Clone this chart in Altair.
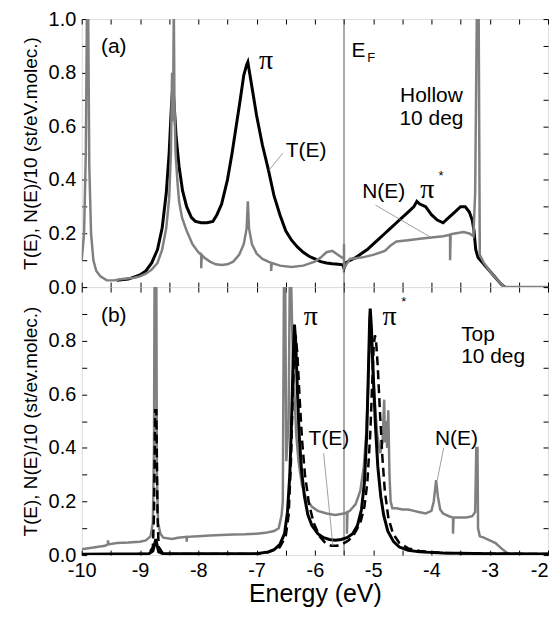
import altair as alt
import pandas as pd

# ---------------- data ----------------
# panel (a) Hollow 10 deg : T(E) black
a_T_E = [-9.4, -9.2, -9.0, -8.9, -8.8, -8.7, -8.62, -8.55, -8.5, -8.46, -8.44, -8.42, -8.38, -8.33,
         -8.27, -8.2, -8.12, -8.05, -7.95, -7.85, -7.75, -7.68, -7.6, -7.5, -7.42, -7.35, -7.28,
         -7.22, -7.17, -7.15, -7.12, -7.06, -7.0, -6.9, -6.8, -6.7, -6.6, -6.5, -6.4, -6.3, -6.2,
         -6.1, -6.0, -5.9, -5.8, -5.7, -5.6, -5.52, -5.5, -5.47, -5.4, -5.3, -5.2, -5.1, -5.0, -4.9,
         -4.8, -4.7, -4.6, -4.5, -4.4, -4.3, -4.25, -4.2, -4.1, -4.0, -3.9, -3.8, -3.7, -3.6, -3.5,
         -3.42, -3.35, -3.3, -3.27, -3.24, -3.2, -3.1, -3.0, -2.9, -2.8, -2.74]
a_T_v = [0.025, 0.03, 0.045, 0.06, 0.09, 0.14, 0.22, 0.35, 0.5, 0.68, 0.74, 0.7, 0.56, 0.45,
         0.36, 0.3, 0.26, 0.245, 0.24, 0.24, 0.245, 0.27, 0.31, 0.40, 0.5, 0.6, 0.7,
         0.79, 0.83, 0.84, 0.8, 0.72, 0.64, 0.53, 0.44, 0.34, 0.27, 0.21, 0.175, 0.15, 0.13,
         0.115, 0.105, 0.095, 0.09, 0.087, 0.085, 0.083, 0.07, 0.09, 0.1, 0.11, 0.125, 0.14, 0.16, 0.18,
         0.2, 0.22, 0.24, 0.26, 0.28, 0.3, 0.32, 0.31, 0.3, 0.27, 0.25, 0.24, 0.26, 0.28, 0.3,
         0.3, 0.28, 0.25, 0.21, 0.14, 0.11, 0.085, 0.06, 0.035, 0.01, 0.0]

# panel (a): N(E)/10 grey
a_N_E = [-10.0, -9.96, -9.93, -9.91, -9.89, -9.87, -9.84, -9.8, -9.75, -9.68, -9.57, -9.45, -9.3,
         -9.1, -9.0, -8.9, -8.8, -8.7, -8.62, -8.55, -8.5, -8.47, -8.45, -8.44, -8.43, -8.42, -8.41,
         -8.39, -8.36, -8.33, -8.28, -8.2, -8.1, -8.0, -7.95, -7.95, -7.94, -7.9, -7.8, -7.7, -7.6,
         -7.5, -7.4, -7.3, -7.22, -7.17, -7.15, -7.13, -7.08, -7.0, -6.9, -6.8, -6.75, -6.75, -6.74,
         -6.6, -6.4, -6.2, -6.0, -5.9, -5.8, -5.7, -5.6, -5.5, -5.5, -5.5, -5.4, -5.2, -5.0, -4.8,
         -4.7, -4.6, -4.4, -4.2, -4.0, -3.8, -3.68, -3.68, -3.67, -3.6, -3.45, -3.35, -3.28, -3.25,
         -3.22, -3.19, -3.17, -3.1, -3.0, -2.9, -2.8, -2.75, -2.0]
a_N_v = [0.10, 0.2, 0.5, 1.05, 1.05, 0.45, 0.2, 0.1, 0.06, 0.04, 0.025, 0.025, 0.03,
         0.035, 0.04, 0.05, 0.065, 0.09, 0.14, 0.22, 0.33, 0.5, 0.8, 0.62, 0.75, 1.05, 0.7,
         0.5, 0.4, 0.32, 0.26, 0.21, 0.16, 0.13, 0.12, 0.07, 0.12, 0.11, 0.095, 0.085, 0.082,
         0.085, 0.095, 0.12, 0.16, 0.22, 0.32, 0.22, 0.16, 0.125, 0.105, 0.095, 0.09, 0.06, 0.09,
         0.08, 0.075, 0.08, 0.095, 0.11, 0.13, 0.135, 0.12, 0.105, 0.16, 0.07, 0.105, 0.11, 0.12, 0.135,
         0.155, 0.17, 0.175, 0.18, 0.185, 0.19, 0.195, 0.1, 0.197, 0.2, 0.205, 0.2, 0.19, 0.35,
         1.05, 1.05, 0.12, 0.09, 0.06, 0.035, 0.01, 0.0, 0.0]

# panel (b) Top 10 deg : N(E)/10 grey
b_N_E = [-10.0, -9.8, -9.6, -9.55, -9.55, -9.54, -9.4, -9.2, -9.0, -8.9, -8.82, -8.78, -8.76, -8.75,
         -8.72, -8.71, -8.69, -8.65, -8.6, -8.45, -8.35, -8.2, -8.2, -8.19, -8.0, -7.8, -7.6, -7.4,
         -7.2, -7.0, -6.85, -6.7, -6.62, -6.57, -6.55, -6.53, -6.51, -6.49, -6.45, -6.43, -6.41,
         -6.39, -6.37, -6.35, -6.32, -6.28, -6.22, -6.15, -6.05, -5.95, -5.8, -5.65, -5.5, -5.45,
         -5.45, -5.44, -5.4, -5.3, -5.22, -5.16, -5.12, -5.09, -5.07, -5.05, -5.02, -4.98, -4.93,
         -4.88, -4.84, -4.81, -4.8, -4.78, -4.76, -4.74, -4.72, -4.7, -4.67, -4.6, -4.5, -4.4,
         -4.3, -4.2, -4.1, -4.0, -3.96, -3.92, -3.89, -3.85, -3.8, -3.7, -3.63, -3.63, -3.62,
         -3.5, -3.4, -3.3, -3.25, -3.23, -3.21, -3.2, -3.17, -3.1, -3.0, -2.9, -2.8, -2.7, -2.65,
         -2.0]
b_N_v = [0.022, 0.028, 0.035, 0.04, 0.055, 0.04, 0.045, 0.047, 0.05, 0.055, 0.07, 0.12, 0.4, 1.05,
         1.05, 0.3, 0.12, 0.08, 0.065, 0.06, 0.065, 0.068, 0.05, 0.068, 0.07, 0.073, 0.075, 0.077,
         0.078, 0.08, 0.083, 0.09, 0.1, 0.15, 0.2, 1.05, 1.05, 0.35, 0.5, 1.05, 1.05,
         0.85, 0.7, 0.6, 0.45, 0.35, 0.26, 0.21, 0.18, 0.165, 0.155, 0.15, 0.155, 0.16,
         0.08, 0.16, 0.165, 0.19, 0.24, 0.33, 0.45, 0.6, 0.75, 0.85, 0.75, 0.6, 0.45,
         0.38, 0.42, 0.58, 0.42, 0.5, 0.4, 0.54, 0.3, 0.2, 0.175, 0.175, 0.17, 0.17,
         0.165, 0.16, 0.155, 0.165, 0.2, 0.28, 0.22, 0.17, 0.155, 0.145, 0.14, 0.08, 0.14,
         0.14, 0.14, 0.145, 0.16, 0.4, 0.4, 0.1, 0.07, 0.065, 0.055, 0.045, 0.025, 0.008, 0.0,
         0.0]

# panel (b): T(E) black solid
b_T_E = [-10.0, -8.85, -8.78, -8.75, -8.73, -8.71, -8.68, -8.6, -7.0, -6.8, -6.7, -6.6, -6.52,
         -6.47, -6.43, -6.4, -6.37, -6.35, -6.33, -6.3, -6.27, -6.23, -6.18, -6.12, -6.05, -5.95,
         -5.85, -5.75, -5.65, -5.55, -5.45, -5.35, -5.27, -5.2, -5.15, -5.11, -5.08, -5.06, -5.05,
         -5.03, -5.0, -4.96, -4.92, -4.87, -4.82, -4.75, -4.65, -4.55, -4.4, -4.2, -3.8, -3.0, -2.0]
b_T_v = [0.003, 0.005, 0.015, 0.04, 0.06, 0.04, 0.012, 0.005, 0.005, 0.012, 0.02, 0.04, 0.08,
         0.16, 0.3, 0.5, 0.75, 0.86, 0.8, 0.62, 0.45, 0.32, 0.22, 0.15, 0.11, 0.08,
         0.065, 0.058, 0.055, 0.058, 0.065, 0.08, 0.11, 0.17, 0.27, 0.45, 0.7, 0.88, 0.92,
         0.85, 0.68, 0.48, 0.33, 0.22, 0.15, 0.09, 0.05, 0.03, 0.018, 0.012, 0.008, 0.005, 0.004]

# panel (b): T(E) black dashed
b_D_E = [-10.0, -8.85, -8.78, -8.76, -8.74, -8.72, -8.70, -8.68, -8.6, -7.0, -6.8, -6.6, -6.5,
         -6.45, -6.41, -6.38, -6.35, -6.33, -6.3, -6.26, -6.22, -6.17, -6.1, -6.02, -5.92, -5.82,
         -5.72, -5.62, -5.52, -5.42, -5.32, -5.22, -5.15, -5.1, -5.05, -5.02, -4.99, -4.97, -4.95,
         -4.92, -4.88, -4.84, -4.8, -4.74, -4.66, -4.55, -4.4, -4.2, -3.8, -3.0, -2.0]
b_D_v = [0.002, 0.004, 0.03, 0.15, 0.54, 0.54, 0.15, 0.03, 0.004, 0.004, 0.01, 0.03, 0.07,
         0.15, 0.35, 0.6, 0.78, 0.82, 0.75, 0.58, 0.43, 0.3, 0.19, 0.12, 0.07, 0.045,
         0.035, 0.035, 0.042, 0.055, 0.08, 0.12, 0.18, 0.27, 0.45, 0.62, 0.78, 0.82, 0.8,
         0.7, 0.52, 0.36, 0.24, 0.14, 0.08, 0.045, 0.025, 0.015, 0.008, 0.005, 0.004]

E_F = [-5.5]

x_tick_values = [-10 + 0.5 * k for k in range(17)]
y_tick_values = [round(0.1 * k, 1) for k in range(11)]

# annotations
a_sans_t = ["(a)", "T(E)", "Hollow", "10 deg", "N(E)", "E"]
a_sans_E = [-9.45, -6.15, -4.0, -4.0, -4.82, -5.25]
a_sans_v = [0.875, 0.487, 0.69, 0.605, 0.332, 0.86]
a_pi_t = ["π", "π"]
a_pi_E = [-6.84, -4.07]
a_pi_v = [0.815, 0.332]
a_small_t = ["*", "F"]
a_small_E = [-3.88, -5.1]
a_small_v = [0.40, 0.841]
a_ptr = {"E": [-6.55, -4.96], "v": [0.50, 0.306], "E2": [-6.79, -4.03], "v2": [0.435, 0.188]}

b_sans_t = ["(b)", "T(E)", "N(E)"]
b_sans_E = [-9.45, -5.76, -3.57]
b_sans_v = [0.87, 0.41, 0.41]
b_left_t = ["Top", "10 deg"]
b_left_E = [-3.49, -3.49]
b_left_v = [0.80, 0.715]
b_pi_t = ["π", "π"]
b_pi_E = [-6.07, -4.72]
b_pi_v = [0.86, 0.86]
b_small_t = ["*"]
b_small_E = [-4.52]
b_small_v = [0.93]
b_ptr = {"E": [-5.85, -3.79], "v": [0.38, 0.40], "E2": [-5.69, -3.9], "v2": [0.033, 0.28]}

# ---------------- chart ----------------
W, H = 468, 269
SANS = "Liberation Sans"
SERIF = "Liberation Serif"
GREY = "#808080"

xs = alt.Scale(domain=[-10, -2], nice=False, zero=False)
ys = alt.Scale(domain=[0, 1], nice=False, zero=True)


def df(E, v):
    return pd.DataFrame({"E": E, "v": v, "i": list(range(len(E)))})


def tick_axis(orient, values):
    return alt.Axis(orient=orient, values=values, offset=-5, tickSize=5, tickColor="black",
                    tickWidth=1, domain=False, grid=False, labels=False, title=None)


def line(d, color, width, xaxis, yaxis, dash=None):
    kw = dict(color=color, strokeWidth=width, clip=True)
    if dash:
        kw["strokeDash"] = dash
    return alt.Chart(d).mark_line(**kw).encode(
        x=alt.X("E:Q", scale=xs, axis=xaxis),
        y=alt.Y("v:Q", scale=ys, axis=yaxis),
        order=alt.Order("i:Q"),
    )


def texts(t, E, v, size, font=SANS, align="center"):
    d = pd.DataFrame({"t": t, "E": E, "v": v})
    return alt.Chart(d).mark_text(font=font, fontSize=size, align=align, baseline="alphabetic",
                                  color="black").encode(
        x=alt.X("E:Q", scale=xs, axis=None),
        y=alt.Y("v:Q", scale=ys, axis=None),
        text="t:N",
    )


def pointers(p):
    d = pd.DataFrame(p)
    return alt.Chart(d).mark_rule(color="#888888", strokeWidth=0.8).encode(
        x=alt.X("E:Q", scale=xs, axis=None), y=alt.Y("v:Q", scale=ys, axis=None),
        x2="E2:Q", y2="v2:Q")


def ef_rule():
    d = pd.DataFrame({"E": E_F})
    return alt.Chart(d).mark_rule(color="#555555", strokeWidth=1).encode(
        x=alt.X("E:Q", scale=xs, axis=None))


def y_label_axis(title, maxv):
    return alt.Axis(orient="left", values=y_tick_values, offset=-5, tickSize=5, tickColor="black",
                    tickWidth=1, domain=False, grid=False,
                    labelExpr=f"datum.value <= {maxv} && round(datum.value*10) % 2 == 0 ? format(datum.value, '.1f') : ''",
                    labelFont=SANS, labelFontSize=20, labelColor="black", labelPadding=6,
                    labelOverlap=False,
                    title=title, titleFont=SANS, titleFontSize=19, titleFontWeight="normal",
                    titleColor="black", titlePadding=8)


x_label_axis = alt.Axis(orient="bottom", values=x_tick_values, offset=-5, tickSize=5,
                        tickColor="black", tickWidth=1, domain=False, grid=False,
                        labelExpr="datum.value == floor(datum.value) ? '' + datum.value : ''",
                        labelAlign={"condition": {"test": "datum.value == -2", "value": "right"},
                                    "value": "center"},
                        labelFont=SANS, labelFontSize=20, labelColor="black", labelPadding=5,
                        labelFlush=False, labelOverlap=False,
                        title="Energy (eV)", titleFont=SANS, titleFontSize=25,
                        titleFontWeight="normal", titleColor="black", titlePadding=2)

top = alt.layer(
    ef_rule(),
    line(df(a_T_E, a_T_v), "black", 3, tick_axis("bottom", x_tick_values),
         y_label_axis("T(E), N(E)/10 (st/eV.molec.)", 1.05)),
    line(df(a_N_E, a_N_v), GREY, 2.5, tick_axis("top", x_tick_values),
         tick_axis("right", y_tick_values)),
    pointers(a_ptr),
    texts(a_sans_t, a_sans_E, a_sans_v, 21),
    texts(a_pi_t, a_pi_E, a_pi_v, 28, font=SERIF),
    texts(a_small_t, a_small_E, a_small_v, 13, align="left"),
).resolve_axis(x="independent", y="independent").properties(width=W, height=H)

bottom = alt.layer(
    ef_rule(),
    line(df(b_N_E, b_N_v), GREY, 2.5, tick_axis("top", x_tick_values),
         tick_axis("right", y_tick_values)),
    line(df(b_T_E, b_T_v), "black", 3, x_label_axis,
         y_label_axis("T(E), N(E)/10 (st/ev.molec.)", 0.85)),
    line(df(b_D_E, b_D_v), "black", 2.5, None, None, dash=[9, 5]),
    pointers(b_ptr),
    texts(b_sans_t, b_sans_E, b_sans_v, 21),
    texts(b_left_t, b_left_E, b_left_v, 21, align="left"),
    texts(b_pi_t, b_pi_E, b_pi_v, 28, font=SERIF),
    texts(b_small_t, b_small_E, b_small_v, 13, align="left"),
).resolve_axis(x="independent", y="independent").properties(width=W, height=H)

chart = alt.vconcat(top, bottom, spacing=0, bounds="flush").properties(
    padding={"left": 12, "top": -1, "right": 0, "bottom": 0}
).configure_view(stroke="black", strokeWidth=2.5).configure(font=SANS)

chart.save("out.html", embed_options={"renderer": "svg", "actions": False})
